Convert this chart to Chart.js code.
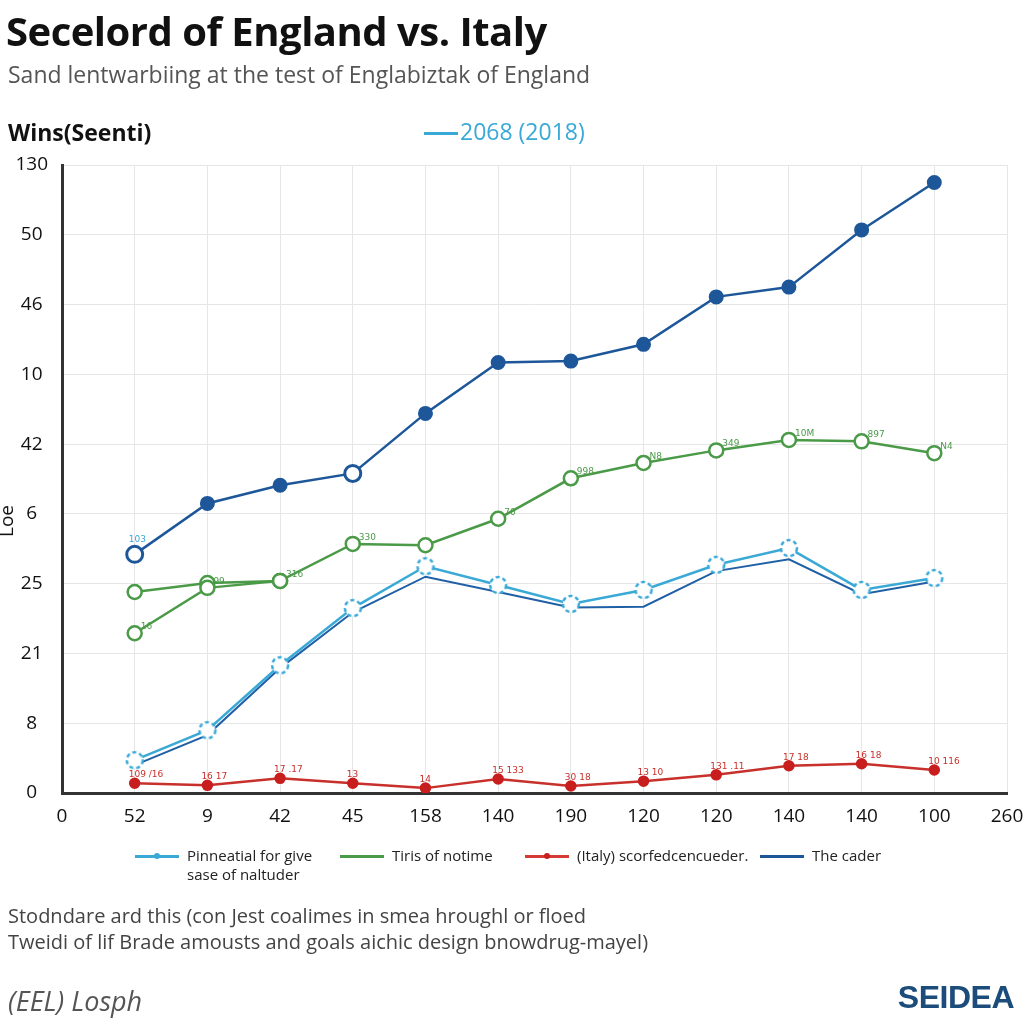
<!DOCTYPE html>
<html>
<head>
<meta charset="utf-8">
<script src="https://cdn.jsdelivr.net/npm/chart.js@4.4.0/dist/chart.umd.min.js"></script>
<style>
  html, body { margin:0; padding:0; background:#fff; }
  body { width:1024px; height:1024px; position:relative; overflow:hidden; font-family:"Open Sans","Noto Sans",sans-serif; }
  #wrap { position:absolute; left:0; top:0; width:1024px; height:1024px; }
  .t { position:absolute; white-space:nowrap; }
  #title { left:6px; top:3px; font-size:40px; font-weight:700; color:#111; letter-spacing:-0.5px; }
  #sub { left:8px; top:58px; font-size:23px; color:#555; }
  #ytop { left:8px; top:116px; font-size:23px; font-weight:700; color:#111; }
  #toplg { left:424px; top:115px; font-size:23px; color:#3aa9d6; }
  #toplg span.ln { display:inline-block; width:34px; height:3px; background:#3aa9d6; vertical-align:middle; margin-right:2px; }
  #yt { left:-10px; top:508px; font-size:19px; color:#111; transform:rotate(-90deg); transform-origin:center; }
  .lg { position:absolute; top:846px; font-size:15px; color:#222; line-height:19px; }
  .lg .sw { position:absolute; left:0; top:9px; width:44px; height:3px; }
  .lg .dot { position:absolute; left:19px; top:7px; width:6px; height:6px; border-radius:50%; }
  .lg .tx { margin-left:52px; display:block; }
  #f1 { left:8px; top:902px; font-size:20px; color:#444; }
  #f2 { left:8px; top:928px; font-size:20px; color:#444; }
  #src { left:8px; top:982px; font-size:27px; color:#555; font-style:italic; }
  #logo { right:10px; top:979px; font-size:32px; font-weight:900; color:#1b4c7a; font-family:"Liberation Sans","DejaVu Sans",sans-serif; letter-spacing:-0.5px; }
</style>
</head>
<body>
<div id="wrap"><canvas id="c" width="1024" height="1024"></canvas></div>
<div class="t" id="title">Secelord of England vs. Italy</div>
<div class="t" id="sub">Sand lentwarbiing at the test of Englabiztak of England</div>
<div class="t" id="ytop">Wins(Seenti)</div>
<div class="t" id="toplg"><span class="ln"></span>2068 (2018)</div>
<div class="t" id="yt">Loe</div>

<div class="lg" style="left:135px;"><span class="sw" style="background:#3aa9d6"></span><span class="dot" style="background:#3aa9d6"></span><span class="tx">Pinneatial for give<br>sase of naltuder</span></div>
<div class="lg" style="left:340px;"><span class="sw" style="background:#4a9a48"></span><span class="tx">Tiris of notime</span></div>
<div class="lg" style="left:525px;"><span class="sw" style="background:#d63a34"></span><span class="dot" style="background:#c81e1e"></span><span class="tx">(Italy) scorfedcencueder.</span></div>
<div class="lg" style="left:760px;"><span class="sw" style="background:#1d5799"></span><span class="tx">The cader</span></div>

<div class="t" id="f1">Stodndare ard this (con Jest coalimes in smea hroughl or floed</div>
<div class="t" id="f2">Tweidi of lif Brade amousts and goals aichic design bnowdrug-mayel)</div>
<div class="t" id="src">(EEL) Losph</div>
<div class="t" id="logo">SEIDEA</div>

<script>
// Tick labels (as printed on the reference)
const xTickLabels = ["0","52","9","42","45","158","140","190","120","120","140","140","100","260"];
const yTickLabels = ["0","8","21","25","6","42","10","46","50","130"];

// Category positions (index along the x axis)
const xPos = [1,2,3,4,5,6,7,8,9,10,11,12];

// Series values, read in grid units of the picture
const caderVals   = [3.42,4.15,4.41,4.58,5.44,6.17,6.19,6.43,7.11,7.25,8.07,8.75];
const tirisVals   = [2.29,2.94,3.04,3.57,3.55,3.93,4.51,4.73,4.91,5.06,5.04,4.87];
const tirisVals2  = [2.88,3.01,3.04];
const pinnVals    = [0.47,0.90,1.83,2.65,3.25,2.98,2.71,2.91,3.27,3.51,2.91,3.08];
const pinnVals2   = [0.40,0.83,1.79,2.59,3.10,2.88,2.66,2.67,3.18,3.35,2.85,3.03];
const italyVals   = [0.14,0.11,0.21,0.14,0.07,0.20,0.10,0.17,0.26,0.39,0.42,0.33];

// Small point labels
const tirisLabels = ["16","99","316","330","","70","998","N8","349","10M","897","N4"];
const italyLabels = ["109 /16","16 17","17 .17","13","14","15 133","30 18","13 10","131 .11","17 18","16 18","10 116"];
const caderLabels = ["103","","","","","","","","","","",""];

function pts(vals){ return vals.map((v,i)=>({x:xPos[i], y:v})); }

// dashed ring marker
function dashedRing(color){
  const c = document.createElement('canvas'); c.width = 24; c.height = 24;
  const g = c.getContext('2d');
  g.fillStyle = '#fff'; g.beginPath(); g.arc(12,12,8,0,Math.PI*2); g.fill();
  g.strokeStyle = color; g.lineWidth = 2.5; g.setLineDash([4,3]);
  g.beginPath(); g.arc(12,12,8,0,Math.PI*2); g.stroke();
  return c;
}
const ring = dashedRing('#3aa9d6');

const caderRadius = [8,6,6,8,6,6,6,6,6,6,6,6];
const caderFill = ['#fff','#1d5799','#1d5799','#fff','#1d5799','#1d5799','#1d5799','#1d5799','#1d5799','#1d5799','#1d5799','#1d5799'];

const labelPlugin = {
  id:'ptlabels',
  afterDatasetsDraw(chart){
    const ctx = chart.ctx;
    ctx.save();
    ctx.font = '9px "DejaVu Sans", sans-serif';
    chart.data.datasets.forEach((ds,di)=>{
      if(!ds.ptLabels) return;
      const meta = chart.getDatasetMeta(di);
      meta.data.forEach((el,i)=>{
        const t = ds.ptLabels[i]; if(!t) return;
        ctx.fillStyle = ds.labelColor;
        ctx.textAlign = 'left';
        ctx.fillText(t, el.x + (ds.labelDx||6), el.y + (ds.labelDy||-6));
      });
    });
    ctx.restore();
  }
};

new Chart(document.getElementById('c'), {
  type:'line',
  data:{
    datasets:[
      { label:'Pinneatial for give sase of naltuder', data:pts(pinnVals), borderColor:'#3aa9d6', borderWidth:2.5,
        pointStyle:ring, pointRadius:9, order:3 },
      { label:'pinn-b', data:pts(pinnVals2), borderColor:'#1f5fa6', borderWidth:2, pointRadius:0, order:4 },
      { label:'Tiris of notime', data:pts(tirisVals), borderColor:'#4a9a48', borderWidth:2.5,
        pointStyle:'circle', pointRadius:7, pointBackgroundColor:'#fff', pointBorderColor:'#4a9a48', pointBorderWidth:2.5,
        ptLabels:tirisLabels, labelColor:'#4a9a48', labelDx:6, labelDy:-4, order:2 },
      { label:'tiris-b', data:pts(tirisVals2), borderColor:'#4a9a48', borderWidth:2.5,
        pointStyle:'circle', pointRadius:7, pointBackgroundColor:'#fff', pointBorderColor:'#4a9a48', pointBorderWidth:2.5, order:2 },
      { label:'(Italy) scorfedcencueder.', data:pts(italyVals), borderColor:'#c8302b', borderWidth:2.5,
        pointStyle:'circle', pointRadius:4.5, pointBackgroundColor:'#c81e1e', pointBorderColor:'#c81e1e',
        ptLabels:italyLabels, labelColor:'#c8302b', labelDx:-6, labelDy:-6, order:1 },
      { label:'The cader', data:pts(caderVals), borderColor:'#1d5799', borderWidth:2.5,
        pointStyle:'circle', pointRadius:caderRadius, pointBackgroundColor:caderFill, pointBorderColor:'#1d5799', pointBorderWidth:3,
        ptLabels:caderLabels, labelColor:'#3aa9d6', labelDx:-6, labelDy:-12, order:0 }
    ]
  },
  options:{
    responsive:false, animation:false,
    layout:{ padding:{ top:165, right:17, bottom:190, left:0 } },
    plugins:{ legend:{display:false}, tooltip:{enabled:false}, title:{display:false} },
    scales:{
      x:{ type:'linear', min:0, max:13,
        afterFit(s){ s.height = 41; s.paddingLeft = 0; s.paddingRight = 0; },
        grid:{ color:'#e6e6e6', lineWidth:1, drawTicks:false },
        border:{ color:'#333', width:3 },
        afterBuildTicks(s){ s.ticks = xTickLabels.map((_,i)=>({value:i})); },
        ticks:{ padding:12, color:'#111', font:{ size:19, family:'"Open Sans", sans-serif' },
          callback:(v)=> xTickLabels[v] }
      },
      y:{ type:'linear', min:0, max:9,
        afterFit(s){ s.width = 62; s.paddingTop = 0; s.paddingBottom = 0; },
        grid:{ color:'#e6e6e6', lineWidth:1, drawTicks:false },
        border:{ color:'#333', width:3 },
        afterBuildTicks(s){ s.ticks = yTickLabels.map((_,i)=>({value:i})); },
        ticks:{ padding:14, color:'#111', font:{ size:19, family:'"Open Sans", sans-serif' },
          crossAlign:'center', callback:(v)=> yTickLabels[v] }
      }
    }
  },
  plugins:[labelPlugin]
});
</script>
</body>
</html>
